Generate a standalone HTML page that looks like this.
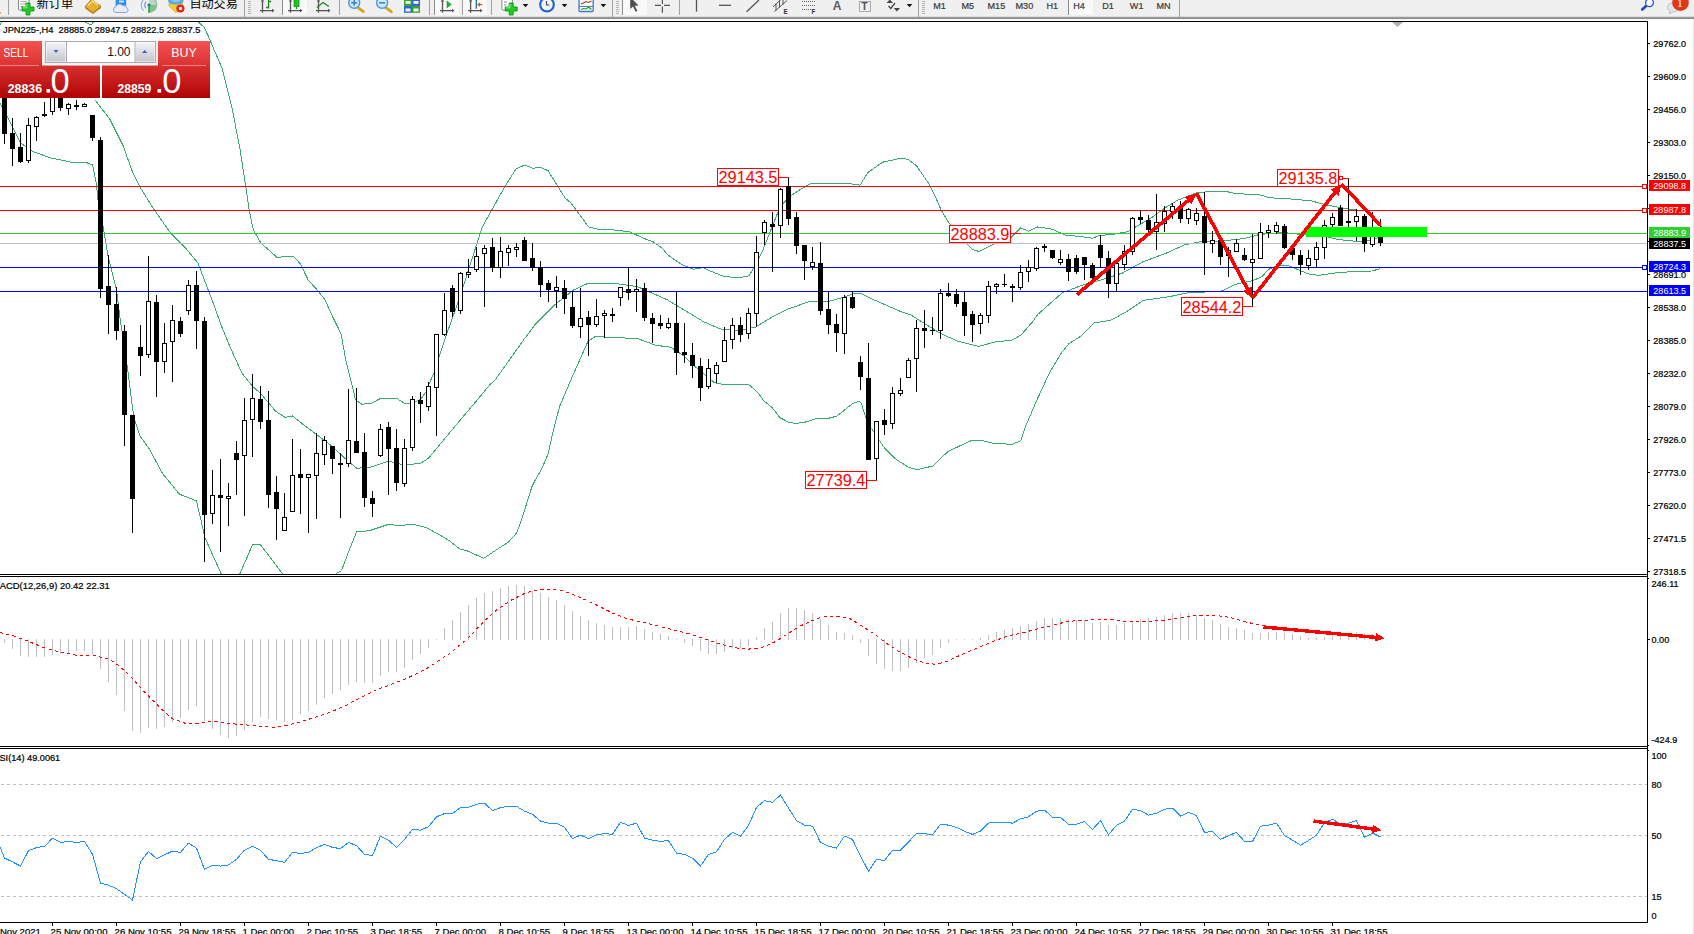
<!DOCTYPE html>
<html><head><meta charset="utf-8"><title>JPN225 H4</title>
<style>html,body{margin:0;padding:0;background:#fff;overflow:hidden}body{width:1694px;height:934px;position:relative}svg{position:absolute;left:0;top:0;display:block}text{white-space:pre}</style>
</head><body>
<svg width="1694" height="934" viewBox="0 0 1694 934" font-family='"Liberation Sans","Noto Sans CJK SC",sans-serif'>
<defs><linearGradient id="gs" x1="0" y1="0" x2="0" y2="1"><stop offset="0" stop-color="#f55252"/><stop offset="1" stop-color="#dc3232"/></linearGradient><linearGradient id="gp" x1="0" y1="0" x2="0" y2="1"><stop offset="0" stop-color="#d93030"/><stop offset="1" stop-color="#b00404"/></linearGradient><linearGradient id="gb" x1="0" y1="0" x2="0" y2="1"><stop offset="0" stop-color="#f4f4f6"/><stop offset="0.5" stop-color="#dcdce2"/><stop offset="1" stop-color="#c4c4cc"/></linearGradient><clipPath id="cm"><rect x="0" y="22" width="1647" height="552"/></clipPath><clipPath id="c2"><rect x="0" y="577" width="1647" height="169"/></clipPath><clipPath id="c3"><rect x="0" y="749" width="1647" height="173"/></clipPath></defs>
<rect x="0" y="0" width="1694" height="934" fill="#fff" />
<g clip-path="url(#cm)">
<polyline points="0,25 1.7,22" fill="none" stroke="#38ab6e" stroke-width="1" shape-rendering="crispEdges"/>
<polyline points="84.4,21.8 88,23.6 90.6,24.9 92,24 93.6,21.8" fill="none" stroke="#38ab6e" stroke-width="1" shape-rendering="crispEdges"/>
<polyline points="195,19 198,21.8 204.1,27.2 209.5,38.7 212.6,46.4 222,68 232.4,110 240,149 246,188 249.5,212 253.4,230 261,243.2 277,257.3 293,256 300.5,263.9 308.1,279.9 317.5,290.3 325,299.7 332.6,316.7 341,333.6 345.8,360 348.3,370 352.4,386.4 355.5,399.9 361.8,404.2 371.4,403.3 379.6,398.9 397.5,398.9 404.7,403.3 410,403.3 415.8,401.8 421.1,398.9 426.4,391.2 428.7,384.5 434.1,372.9 438.1,360 447.5,331.7 456.9,305.4 466.3,277 475.8,247 482.2,227.2 491.6,210.3 504.8,186.7 516.1,168.8 524.6,165.1 533,168.3 540.6,167.3 548.1,170.7 557.5,185.8 565.1,198 570.7,202.8 576.4,210.3 588.6,226.9 597.1,229.1 615.9,230.1 629.5,231.9 644.2,238.5 654,242.2 663,248.9 667.2,254.5 678.1,262.1 684.1,265.8 693.6,269.2 703,267.7 711.3,271.5 724.5,276.6 739.6,277.7 749,275.8 754.6,266.8 762.2,251.7 769.7,232.9 777.2,214 783.8,202.7 790.4,196.2 801.7,188.6 811.2,183.5 831.9,183.2 848.8,183.5 860.1,185.2 867.7,172.6 882.7,162.2 901.6,158.1 908.2,159.4 916.7,166 928.9,183.9 935.5,197.1 941.2,210.3 948.7,222.5 958,234 967.5,244.2 972.2,249.5 978.8,251.4 988.2,247 1001.4,240.4 1011.3,237.2 1020.7,227.8 1028.3,231.2 1037.7,226.9 1050.9,228.8 1065.9,235.4 1079.1,236.3 1092.3,238.2 1099.8,235.4 1113,234.4 1128.1,231.6 1135.6,226.9 1150.7,218.4 1162,209.9 1177.1,200.5 1195.9,193 1212.9,191.1 1224.2,191.1 1235.5,193.5 1260,194.9 1269.4,197.7 1293.9,199.2 1311.6,200.9 1324.8,204.6 1339.9,207.5 1353,209.9 1365,210.4 1381,210.6" fill="none" stroke="#38ab6e" stroke-width="1" shape-rendering="crispEdges"/>
<polyline points="95.2,100 110.3,120 122.8,145 132.8,172.7 140.4,187.7 152.9,207.8 170.4,232.9 185.5,247.9 198,262.9 205.5,283 212,299.7 221.4,326 230.8,348.7 242,373.2 252.5,386.4 261,393.9 266.1,400 275.6,411.3 285,417.3 292.5,416 305.7,426.4 317,434.9 332,446.2 347.1,460.3 356.6,468.2 369.7,467.4 388.6,461.2 400,464 409.4,464.6 420.7,463.1 428.3,458.4 437.7,447.1 456.5,424.5 477.2,400 490,384.5 494.6,380.7 513.4,354.3 524,339.3 530,331.7 535.3,324.2 554.1,305.4 573,290.3 588,283.3 616.3,283.7 637,286.5 652.1,293.1 667.2,299.7 684.1,310 703,321.4 720,328.9 736.9,330.8 755.7,327 772.7,316.7 787.8,309.1 810.4,301.2 829.2,301.2 842,297.8 852.6,294.1 860.1,293.2 869.6,297.9 884.6,304.5 899.7,311.1 910.4,314.7 925.5,324.1 940.6,333.5 957.5,341.1 978.3,346.4 995.2,342 1012.2,340.1 1021.6,334.5 1032.9,321.3 1037.7,314.5 1062.2,292.8 1084.8,284.3 1105.5,278.7 1122.5,273 1143.2,261.7 1165.8,253.3 1184.6,244.8 1199.7,241.9 1222.3,241 1243,238.7 1260,234.4 1282.6,232.5 1301.4,234.4 1318,234.4 1338,239.5 1356.8,241.4 1370,240.4 1380.4,237" fill="none" stroke="#38ab6e" stroke-width="1" shape-rendering="crispEdges"/>
<polyline points="0,102.9 7.1,116.2 20,142.1 22.3,144.2 32.5,151.4 50,157.7 75,163 85,162 92.7,165 96.5,185 97.7,197.8 102.8,225 107.8,255 116.5,290 120.3,320 127.8,370 132.8,410 134.3,418.8 139.9,435.8 149.3,449 162.5,473.5 179.5,494.2 196.4,500.8 200.2,516.8 204.9,537.5 220.9,573.3 222,576" fill="none" stroke="#38ab6e" stroke-width="1" shape-rendering="crispEdges"/>
<polyline points="239,576 240.1,573.3 252.9,544 260.5,545 268,554.5 282,573.3 284,576" fill="none" stroke="#38ab6e" stroke-width="1" shape-rendering="crispEdges"/>
<polyline points="335,576 336.8,573.3 341.5,570.5 349,550.7 356.6,531.9 369.7,530.6 388.6,524.3 399.9,525.8 412.2,524 426.4,527.7 437.7,533.8 449,540.4 460.3,549.4 465.9,550.3 483.8,558.3 498,548.8 508.3,542.2 516.8,532.8 522.5,516.8 531.9,486.7 534.7,481 541.3,469.7 547.9,454.6 552.6,433.9 557.3,415.1 559.8,406 573,375 588,341.2 595.6,336.4 616.3,337.8 637,338.3 655.9,345.3 671,347.2 684.1,356.2 697.3,368.5 714.3,382.6 723.7,384.5 748.7,384.5 752.5,387.8 758.3,393.1 764.1,401.3 771.8,407.1 780,417.7 788.2,422 795.9,423.5 805.5,422 818.1,418.2 828.7,418.2 836.4,416.3 844.1,410.5 852.8,403.3 859.5,401.3 861.4,403.3 865.3,416.3 871.1,427.8 878.8,439.4 884.6,448.1 895.4,458.8 908.5,467.3 917,469.6 933,466 948.1,451.3 972.6,440 980.1,440 993.3,443.4 1012.2,444.3 1020.6,440.9 1025.4,426.8 1036.7,400.4 1049.8,372.2 1061.1,353.3 1068.7,343.9 1081,336 1094.2,323 1111.2,320.1 1128.1,310.7 1143.2,300.4 1169.6,296.6 1188.4,292.8 1207.2,291.9 1222.3,290.9 1235.5,284.3 1252.5,280.6 1261.9,276.8 1268.3,269.6 1277.7,265.3 1289,265.9 1300.3,270.6 1309.7,274.3 1319.1,275.3 1338,272.5 1356.8,271.5 1371.9,271 1380.4,268.7" fill="none" stroke="#38ab6e" stroke-width="1" shape-rendering="crispEdges"/>
<rect x="0" y="186" width="1647" height="1" fill="#ff0000" />
<rect x="0" y="210" width="1647" height="1" fill="#ff0000" />
<rect x="0" y="233" width="1647" height="1" fill="#32cd32" />
<rect x="0" y="243" width="1647" height="1" fill="#c0c0c0" />
<rect x="0" y="267" width="1647" height="1" fill="#0000ff" />
<rect x="0" y="291" width="1647" height="1" fill="#0000ff" />
<g shape-rendering="crispEdges">
<rect x="4" y="85" width="1" height="59" fill="#000" />
<rect x="2" y="90" width="5" height="44" fill="#000" />
<rect x="12" y="118" width="1" height="48" fill="#000" />
<rect x="10" y="133" width="5" height="16" fill="#000" />
<rect x="20" y="133" width="1" height="30" fill="#000" />
<rect x="18" y="147" width="5" height="15" fill="#000" />
<rect x="28" y="118" width="1" height="45" fill="#000" />
<rect x="26" y="125" width="5" height="36" fill="#000" />
<rect x="27" y="126" width="3" height="34" fill="#fff" />
<rect x="36" y="116" width="1" height="25" fill="#000" />
<rect x="34" y="117" width="5" height="10" fill="#000" />
<rect x="35" y="118" width="3" height="8" fill="#fff" />
<rect x="44" y="102" width="1" height="15" fill="#000" />
<rect x="42" y="114" width="5" height="2" fill="#000" />
<rect x="52" y="90" width="1" height="25" fill="#000" />
<rect x="50" y="92" width="5" height="20" fill="#000" />
<rect x="51" y="93" width="3" height="18" fill="#fff" />
<rect x="60" y="90" width="1" height="21" fill="#000" />
<rect x="58" y="95" width="5" height="13" fill="#000" />
<rect x="68" y="103" width="1" height="12" fill="#000" />
<rect x="66" y="104" width="5" height="5" fill="#000" />
<rect x="67" y="105" width="3" height="3" fill="#fff" />
<rect x="76" y="100" width="1" height="10" fill="#000" />
<rect x="74" y="105" width="5" height="2" fill="#000" />
<rect x="84" y="103" width="1" height="4" fill="#000" />
<rect x="82" y="104" width="5" height="3" fill="#000" />
<rect x="83" y="105" width="3" height="1" fill="#fff" />
<rect x="92" y="115" width="1" height="26" fill="#000" />
<rect x="90" y="115" width="5" height="23" fill="#000" />
<rect x="100" y="137" width="1" height="161" fill="#000" />
<rect x="98" y="140" width="5" height="149" fill="#000" />
<rect x="108" y="255" width="1" height="79" fill="#000" />
<rect x="106" y="286" width="5" height="19" fill="#000" />
<rect x="116" y="287" width="1" height="53" fill="#000" />
<rect x="114" y="304" width="5" height="27" fill="#000" />
<rect x="124" y="325" width="1" height="121" fill="#000" />
<rect x="122" y="331" width="5" height="84" fill="#000" />
<rect x="132" y="415" width="1" height="118" fill="#000" />
<rect x="130" y="415" width="5" height="84" fill="#000" />
<rect x="140" y="325" width="1" height="51" fill="#000" />
<rect x="138" y="347" width="5" height="9" fill="#000" />
<rect x="148" y="256" width="1" height="102" fill="#000" />
<rect x="146" y="301" width="5" height="54" fill="#000" />
<rect x="147" y="302" width="3" height="52" fill="#fff" />
<rect x="156" y="295" width="1" height="102" fill="#000" />
<rect x="154" y="302" width="5" height="60" fill="#000" />
<rect x="164" y="323" width="1" height="50" fill="#000" />
<rect x="162" y="343" width="5" height="19" fill="#000" />
<rect x="163" y="344" width="3" height="17" fill="#fff" />
<rect x="172" y="305" width="1" height="77" fill="#000" />
<rect x="170" y="320" width="5" height="22" fill="#000" />
<rect x="171" y="321" width="3" height="20" fill="#fff" />
<rect x="180" y="317" width="1" height="20" fill="#000" />
<rect x="178" y="321" width="5" height="13" fill="#000" />
<rect x="188" y="280" width="1" height="35" fill="#000" />
<rect x="186" y="285" width="5" height="26" fill="#000" />
<rect x="187" y="286" width="3" height="24" fill="#fff" />
<rect x="196" y="271" width="1" height="78" fill="#000" />
<rect x="194" y="285" width="5" height="36" fill="#000" />
<rect x="204" y="317" width="1" height="245" fill="#000" />
<rect x="202" y="321" width="5" height="194" fill="#000" />
<rect x="212" y="470" width="1" height="54" fill="#000" />
<rect x="210" y="495" width="5" height="19" fill="#000" />
<rect x="211" y="496" width="3" height="17" fill="#fff" />
<rect x="220" y="459" width="1" height="93" fill="#000" />
<rect x="218" y="495" width="5" height="3" fill="#000" />
<rect x="228" y="483" width="1" height="43" fill="#000" />
<rect x="226" y="496" width="5" height="3" fill="#000" />
<rect x="227" y="497" width="3" height="1" fill="#fff" />
<rect x="236" y="441" width="1" height="54" fill="#000" />
<rect x="234" y="453" width="5" height="7" fill="#000" />
<rect x="244" y="398" width="1" height="118" fill="#000" />
<rect x="242" y="420" width="5" height="36" fill="#000" />
<rect x="243" y="421" width="3" height="34" fill="#fff" />
<rect x="252" y="374" width="1" height="83" fill="#000" />
<rect x="250" y="398" width="5" height="22" fill="#000" />
<rect x="251" y="399" width="3" height="20" fill="#fff" />
<rect x="260" y="386" width="1" height="43" fill="#000" />
<rect x="258" y="399" width="5" height="23" fill="#000" />
<rect x="268" y="391" width="1" height="117" fill="#000" />
<rect x="266" y="420" width="5" height="75" fill="#000" />
<rect x="276" y="476" width="1" height="64" fill="#000" />
<rect x="274" y="492" width="5" height="17" fill="#000" />
<rect x="284" y="493" width="1" height="38" fill="#000" />
<rect x="282" y="517" width="5" height="14" fill="#000" />
<rect x="283" y="518" width="3" height="12" fill="#fff" />
<rect x="292" y="439" width="1" height="73" fill="#000" />
<rect x="290" y="475" width="5" height="37" fill="#000" />
<rect x="291" y="476" width="3" height="35" fill="#fff" />
<rect x="300" y="449" width="1" height="65" fill="#000" />
<rect x="298" y="474" width="5" height="4" fill="#000" />
<rect x="308" y="474" width="1" height="59" fill="#000" />
<rect x="306" y="474" width="5" height="4" fill="#000" />
<rect x="307" y="475" width="3" height="2" fill="#fff" />
<rect x="316" y="433" width="1" height="86" fill="#000" />
<rect x="314" y="453" width="5" height="23" fill="#000" />
<rect x="315" y="454" width="3" height="21" fill="#fff" />
<rect x="324" y="436" width="1" height="29" fill="#000" />
<rect x="322" y="440" width="5" height="15" fill="#000" />
<rect x="323" y="441" width="3" height="13" fill="#fff" />
<rect x="332" y="446" width="1" height="28" fill="#000" />
<rect x="330" y="446" width="5" height="13" fill="#000" />
<rect x="340" y="453" width="1" height="65" fill="#000" />
<rect x="338" y="463" width="5" height="2" fill="#000" />
<rect x="348" y="389" width="1" height="78" fill="#000" />
<rect x="346" y="440" width="5" height="24" fill="#000" />
<rect x="347" y="441" width="3" height="22" fill="#fff" />
<rect x="356" y="388" width="1" height="65" fill="#000" />
<rect x="354" y="441" width="5" height="12" fill="#000" />
<rect x="364" y="433" width="1" height="74" fill="#000" />
<rect x="362" y="452" width="5" height="46" fill="#000" />
<rect x="372" y="491" width="1" height="26" fill="#000" />
<rect x="370" y="498" width="5" height="6" fill="#000" />
<rect x="380" y="424" width="1" height="33" fill="#000" />
<rect x="378" y="429" width="5" height="27" fill="#000" />
<rect x="379" y="430" width="3" height="25" fill="#fff" />
<rect x="388" y="422" width="1" height="73" fill="#000" />
<rect x="386" y="427" width="5" height="22" fill="#000" />
<rect x="396" y="429" width="1" height="62" fill="#000" />
<rect x="394" y="448" width="5" height="35" fill="#000" />
<rect x="404" y="439" width="1" height="48" fill="#000" />
<rect x="402" y="448" width="5" height="36" fill="#000" />
<rect x="403" y="449" width="3" height="34" fill="#fff" />
<rect x="412" y="396" width="1" height="55" fill="#000" />
<rect x="410" y="399" width="5" height="49" fill="#000" />
<rect x="411" y="400" width="3" height="47" fill="#fff" />
<rect x="420" y="392" width="1" height="31" fill="#000" />
<rect x="418" y="400" width="5" height="4" fill="#000" />
<rect x="428" y="382" width="1" height="29" fill="#000" />
<rect x="426" y="386" width="5" height="21" fill="#000" />
<rect x="427" y="387" width="3" height="19" fill="#fff" />
<rect x="436" y="334" width="1" height="102" fill="#000" />
<rect x="434" y="334" width="5" height="54" fill="#000" />
<rect x="435" y="335" width="3" height="52" fill="#fff" />
<rect x="444" y="293" width="1" height="43" fill="#000" />
<rect x="442" y="310" width="5" height="25" fill="#000" />
<rect x="443" y="311" width="3" height="23" fill="#fff" />
<rect x="452" y="285" width="1" height="32" fill="#000" />
<rect x="450" y="288" width="5" height="24" fill="#000" />
<rect x="460" y="272" width="1" height="42" fill="#000" />
<rect x="458" y="273" width="5" height="38" fill="#000" />
<rect x="459" y="274" width="3" height="36" fill="#fff" />
<rect x="468" y="259" width="1" height="19" fill="#000" />
<rect x="466" y="272" width="5" height="3" fill="#000" />
<rect x="467" y="273" width="3" height="1" fill="#fff" />
<rect x="476" y="247" width="1" height="25" fill="#000" />
<rect x="474" y="256" width="5" height="14" fill="#000" />
<rect x="475" y="257" width="3" height="12" fill="#fff" />
<rect x="484" y="245" width="1" height="62" fill="#000" />
<rect x="482" y="248" width="5" height="6" fill="#000" />
<rect x="483" y="249" width="3" height="4" fill="#fff" />
<rect x="492" y="238" width="1" height="34" fill="#000" />
<rect x="490" y="247" width="5" height="21" fill="#000" />
<rect x="500" y="237" width="1" height="41" fill="#000" />
<rect x="498" y="251" width="5" height="17" fill="#000" />
<rect x="499" y="252" width="3" height="15" fill="#fff" />
<rect x="508" y="245" width="1" height="21" fill="#000" />
<rect x="506" y="248" width="5" height="5" fill="#000" />
<rect x="507" y="249" width="3" height="3" fill="#fff" />
<rect x="516" y="243" width="1" height="14" fill="#000" />
<rect x="514" y="247" width="5" height="3" fill="#000" />
<rect x="515" y="248" width="3" height="1" fill="#fff" />
<rect x="524" y="237" width="1" height="24" fill="#000" />
<rect x="522" y="240" width="5" height="21" fill="#000" />
<rect x="532" y="243" width="1" height="28" fill="#000" />
<rect x="530" y="258" width="5" height="10" fill="#000" />
<rect x="540" y="261" width="1" height="36" fill="#000" />
<rect x="538" y="267" width="5" height="18" fill="#000" />
<rect x="548" y="280" width="1" height="22" fill="#000" />
<rect x="546" y="283" width="5" height="7" fill="#000" />
<rect x="556" y="276" width="1" height="32" fill="#000" />
<rect x="554" y="287" width="5" height="4" fill="#000" />
<rect x="555" y="288" width="3" height="2" fill="#fff" />
<rect x="564" y="280" width="1" height="34" fill="#000" />
<rect x="562" y="288" width="5" height="11" fill="#000" />
<rect x="572" y="291" width="1" height="37" fill="#000" />
<rect x="570" y="307" width="5" height="19" fill="#000" />
<rect x="580" y="288" width="1" height="50" fill="#000" />
<rect x="578" y="318" width="5" height="9" fill="#000" />
<rect x="579" y="319" width="3" height="7" fill="#fff" />
<rect x="588" y="311" width="1" height="45" fill="#000" />
<rect x="586" y="317" width="5" height="8" fill="#000" />
<rect x="596" y="299" width="1" height="28" fill="#000" />
<rect x="594" y="316" width="5" height="9" fill="#000" />
<rect x="595" y="317" width="3" height="7" fill="#fff" />
<rect x="604" y="310" width="1" height="28" fill="#000" />
<rect x="602" y="313" width="5" height="3" fill="#000" />
<rect x="603" y="314" width="3" height="1" fill="#fff" />
<rect x="612" y="308" width="1" height="14" fill="#000" />
<rect x="610" y="314" width="5" height="2" fill="#000" />
<rect x="620" y="287" width="1" height="19" fill="#000" />
<rect x="618" y="287" width="5" height="11" fill="#000" />
<rect x="619" y="288" width="3" height="9" fill="#fff" />
<rect x="628" y="267" width="1" height="33" fill="#000" />
<rect x="626" y="289" width="5" height="4" fill="#000" />
<rect x="636" y="279" width="1" height="33" fill="#000" />
<rect x="634" y="289" width="5" height="3" fill="#000" />
<rect x="635" y="290" width="3" height="1" fill="#fff" />
<rect x="644" y="283" width="1" height="38" fill="#000" />
<rect x="642" y="288" width="5" height="30" fill="#000" />
<rect x="652" y="313" width="1" height="30" fill="#000" />
<rect x="650" y="318" width="5" height="6" fill="#000" />
<rect x="660" y="315" width="1" height="14" fill="#000" />
<rect x="658" y="323" width="5" height="3" fill="#000" />
<rect x="668" y="318" width="1" height="11" fill="#000" />
<rect x="666" y="323" width="5" height="5" fill="#000" />
<rect x="667" y="324" width="3" height="3" fill="#fff" />
<rect x="676" y="292" width="1" height="83" fill="#000" />
<rect x="674" y="323" width="5" height="30" fill="#000" />
<rect x="684" y="323" width="1" height="40" fill="#000" />
<rect x="682" y="352" width="5" height="3" fill="#000" />
<rect x="692" y="343" width="1" height="35" fill="#000" />
<rect x="690" y="355" width="5" height="11" fill="#000" />
<rect x="700" y="358" width="1" height="43" fill="#000" />
<rect x="698" y="366" width="5" height="22" fill="#000" />
<rect x="708" y="359" width="1" height="30" fill="#000" />
<rect x="706" y="368" width="5" height="19" fill="#000" />
<rect x="707" y="369" width="3" height="17" fill="#fff" />
<rect x="716" y="362" width="1" height="21" fill="#000" />
<rect x="714" y="365" width="5" height="9" fill="#000" />
<rect x="715" y="366" width="3" height="7" fill="#fff" />
<rect x="724" y="327" width="1" height="35" fill="#000" />
<rect x="722" y="340" width="5" height="22" fill="#000" />
<rect x="723" y="341" width="3" height="20" fill="#fff" />
<rect x="732" y="318" width="1" height="31" fill="#000" />
<rect x="730" y="325" width="5" height="15" fill="#000" />
<rect x="731" y="326" width="3" height="13" fill="#fff" />
<rect x="740" y="317" width="1" height="25" fill="#000" />
<rect x="738" y="325" width="5" height="10" fill="#000" />
<rect x="748" y="308" width="1" height="31" fill="#000" />
<rect x="746" y="313" width="5" height="21" fill="#000" />
<rect x="747" y="314" width="3" height="19" fill="#fff" />
<rect x="756" y="236" width="1" height="91" fill="#000" />
<rect x="754" y="252" width="5" height="62" fill="#000" />
<rect x="755" y="253" width="3" height="60" fill="#fff" />
<rect x="764" y="220" width="1" height="25" fill="#000" />
<rect x="762" y="222" width="5" height="11" fill="#000" />
<rect x="763" y="223" width="3" height="9" fill="#fff" />
<rect x="772" y="212" width="1" height="60" fill="#000" />
<rect x="770" y="224" width="5" height="3" fill="#000" />
<rect x="780" y="188" width="1" height="50" fill="#000" />
<rect x="778" y="189" width="5" height="37" fill="#000" />
<rect x="779" y="190" width="3" height="35" fill="#fff" />
<rect x="788" y="177" width="1" height="48" fill="#000" />
<rect x="786" y="186" width="5" height="33" fill="#000" />
<rect x="796" y="212" width="1" height="42" fill="#000" />
<rect x="794" y="217" width="5" height="29" fill="#000" />
<rect x="804" y="245" width="1" height="35" fill="#000" />
<rect x="802" y="245" width="5" height="16" fill="#000" />
<rect x="812" y="247" width="1" height="23" fill="#000" />
<rect x="810" y="262" width="5" height="5" fill="#000" />
<rect x="811" y="263" width="3" height="3" fill="#fff" />
<rect x="820" y="242" width="1" height="73" fill="#000" />
<rect x="818" y="263" width="5" height="48" fill="#000" />
<rect x="828" y="292" width="1" height="42" fill="#000" />
<rect x="826" y="309" width="5" height="16" fill="#000" />
<rect x="836" y="314" width="1" height="38" fill="#000" />
<rect x="834" y="324" width="5" height="9" fill="#000" />
<rect x="844" y="295" width="1" height="59" fill="#000" />
<rect x="842" y="297" width="5" height="37" fill="#000" />
<rect x="843" y="298" width="3" height="35" fill="#fff" />
<rect x="852" y="291" width="1" height="18" fill="#000" />
<rect x="850" y="297" width="5" height="11" fill="#000" />
<rect x="860" y="356" width="1" height="34" fill="#000" />
<rect x="858" y="362" width="5" height="15" fill="#000" />
<rect x="868" y="343" width="1" height="117" fill="#000" />
<rect x="866" y="378" width="5" height="82" fill="#000" />
<rect x="876" y="421" width="1" height="60" fill="#000" />
<rect x="874" y="421" width="5" height="38" fill="#000" />
<rect x="875" y="422" width="3" height="36" fill="#fff" />
<rect x="884" y="409" width="1" height="26" fill="#000" />
<rect x="882" y="420" width="5" height="5" fill="#000" />
<rect x="892" y="387" width="1" height="42" fill="#000" />
<rect x="890" y="393" width="5" height="31" fill="#000" />
<rect x="891" y="394" width="3" height="29" fill="#fff" />
<rect x="900" y="378" width="1" height="18" fill="#000" />
<rect x="898" y="390" width="5" height="4" fill="#000" />
<rect x="899" y="391" width="3" height="2" fill="#fff" />
<rect x="908" y="358" width="1" height="20" fill="#000" />
<rect x="906" y="360" width="5" height="18" fill="#000" />
<rect x="907" y="361" width="3" height="16" fill="#fff" />
<rect x="916" y="320" width="1" height="72" fill="#000" />
<rect x="914" y="328" width="5" height="31" fill="#000" />
<rect x="915" y="329" width="3" height="29" fill="#fff" />
<rect x="924" y="310" width="1" height="38" fill="#000" />
<rect x="922" y="328" width="5" height="3" fill="#000" />
<rect x="932" y="317" width="1" height="18" fill="#000" />
<rect x="930" y="330" width="5" height="1" fill="#000" />
<rect x="940" y="289" width="1" height="50" fill="#000" />
<rect x="938" y="293" width="5" height="38" fill="#000" />
<rect x="939" y="294" width="3" height="36" fill="#fff" />
<rect x="948" y="283" width="1" height="14" fill="#000" />
<rect x="946" y="293" width="5" height="3" fill="#000" />
<rect x="956" y="289" width="1" height="18" fill="#000" />
<rect x="954" y="294" width="5" height="10" fill="#000" />
<rect x="964" y="291" width="1" height="45" fill="#000" />
<rect x="962" y="302" width="5" height="14" fill="#000" />
<rect x="972" y="311" width="1" height="31" fill="#000" />
<rect x="970" y="314" width="5" height="11" fill="#000" />
<rect x="980" y="313" width="1" height="21" fill="#000" />
<rect x="978" y="315" width="5" height="9" fill="#000" />
<rect x="979" y="316" width="3" height="7" fill="#fff" />
<rect x="988" y="281" width="1" height="42" fill="#000" />
<rect x="986" y="286" width="5" height="30" fill="#000" />
<rect x="987" y="287" width="3" height="28" fill="#fff" />
<rect x="996" y="283" width="1" height="11" fill="#000" />
<rect x="994" y="284" width="5" height="3" fill="#000" />
<rect x="995" y="285" width="3" height="1" fill="#fff" />
<rect x="1004" y="274" width="1" height="13" fill="#000" />
<rect x="1002" y="284" width="5" height="1" fill="#000" />
<rect x="1012" y="284" width="1" height="18" fill="#000" />
<rect x="1010" y="286" width="5" height="2" fill="#000" />
<rect x="1020" y="265" width="1" height="25" fill="#000" />
<rect x="1018" y="272" width="5" height="16" fill="#000" />
<rect x="1019" y="273" width="3" height="14" fill="#fff" />
<rect x="1028" y="260" width="1" height="22" fill="#000" />
<rect x="1026" y="267" width="5" height="5" fill="#000" />
<rect x="1027" y="268" width="3" height="3" fill="#fff" />
<rect x="1036" y="247" width="1" height="24" fill="#000" />
<rect x="1034" y="248" width="5" height="21" fill="#000" />
<rect x="1035" y="249" width="3" height="19" fill="#fff" />
<rect x="1044" y="244" width="1" height="8" fill="#000" />
<rect x="1042" y="246" width="5" height="2" fill="#000" />
<rect x="1052" y="250" width="1" height="9" fill="#000" />
<rect x="1050" y="250" width="5" height="8" fill="#000" />
<rect x="1060" y="250" width="1" height="15" fill="#000" />
<rect x="1058" y="259" width="5" height="4" fill="#000" />
<rect x="1059" y="260" width="3" height="2" fill="#fff" />
<rect x="1068" y="254" width="1" height="27" fill="#000" />
<rect x="1066" y="259" width="5" height="13" fill="#000" />
<rect x="1076" y="255" width="1" height="19" fill="#000" />
<rect x="1074" y="258" width="5" height="14" fill="#000" />
<rect x="1084" y="257" width="1" height="23" fill="#000" />
<rect x="1082" y="257" width="5" height="8" fill="#000" />
<rect x="1092" y="263" width="1" height="16" fill="#000" />
<rect x="1090" y="265" width="5" height="13" fill="#000" />
<rect x="1100" y="235" width="1" height="33" fill="#000" />
<rect x="1098" y="245" width="5" height="13" fill="#000" />
<rect x="1108" y="251" width="1" height="47" fill="#000" />
<rect x="1106" y="258" width="5" height="26" fill="#000" />
<rect x="1116" y="263" width="1" height="29" fill="#000" />
<rect x="1114" y="263" width="5" height="21" fill="#000" />
<rect x="1115" y="264" width="3" height="19" fill="#fff" />
<rect x="1124" y="245" width="1" height="25" fill="#000" />
<rect x="1122" y="251" width="5" height="14" fill="#000" />
<rect x="1123" y="252" width="3" height="12" fill="#fff" />
<rect x="1132" y="217" width="1" height="38" fill="#000" />
<rect x="1130" y="218" width="5" height="34" fill="#000" />
<rect x="1131" y="219" width="3" height="32" fill="#fff" />
<rect x="1140" y="210" width="1" height="14" fill="#000" />
<rect x="1138" y="217" width="5" height="3" fill="#000" />
<rect x="1148" y="215" width="1" height="18" fill="#000" />
<rect x="1146" y="220" width="5" height="10" fill="#000" />
<rect x="1156" y="194" width="1" height="56" fill="#000" />
<rect x="1154" y="222" width="5" height="10" fill="#000" />
<rect x="1155" y="223" width="3" height="8" fill="#fff" />
<rect x="1164" y="206" width="1" height="26" fill="#000" />
<rect x="1162" y="211" width="5" height="13" fill="#000" />
<rect x="1163" y="212" width="3" height="11" fill="#fff" />
<rect x="1172" y="203" width="1" height="16" fill="#000" />
<rect x="1170" y="206" width="5" height="6" fill="#000" />
<rect x="1171" y="207" width="3" height="4" fill="#fff" />
<rect x="1180" y="201" width="1" height="22" fill="#000" />
<rect x="1178" y="206" width="5" height="13" fill="#000" />
<rect x="1188" y="208" width="1" height="16" fill="#000" />
<rect x="1186" y="209" width="5" height="10" fill="#000" />
<rect x="1187" y="210" width="3" height="8" fill="#fff" />
<rect x="1196" y="208" width="1" height="17" fill="#000" />
<rect x="1194" y="213" width="5" height="8" fill="#000" />
<rect x="1195" y="214" width="3" height="6" fill="#fff" />
<rect x="1204" y="192" width="1" height="83" fill="#000" />
<rect x="1202" y="216" width="5" height="27" fill="#000" />
<rect x="1212" y="231" width="1" height="22" fill="#000" />
<rect x="1210" y="240" width="5" height="4" fill="#000" />
<rect x="1211" y="241" width="3" height="2" fill="#fff" />
<rect x="1220" y="240" width="1" height="25" fill="#000" />
<rect x="1218" y="240" width="5" height="17" fill="#000" />
<rect x="1228" y="247" width="1" height="30" fill="#000" />
<rect x="1226" y="250" width="5" height="6" fill="#000" />
<rect x="1227" y="251" width="3" height="4" fill="#fff" />
<rect x="1236" y="239" width="1" height="13" fill="#000" />
<rect x="1234" y="243" width="5" height="9" fill="#000" />
<rect x="1235" y="244" width="3" height="7" fill="#fff" />
<rect x="1244" y="248" width="1" height="13" fill="#000" />
<rect x="1242" y="255" width="5" height="5" fill="#000" />
<rect x="1252" y="234" width="1" height="73" fill="#000" />
<rect x="1250" y="259" width="5" height="4" fill="#000" />
<rect x="1251" y="260" width="3" height="2" fill="#fff" />
<rect x="1260" y="223" width="1" height="36" fill="#000" />
<rect x="1258" y="232" width="5" height="27" fill="#000" />
<rect x="1259" y="233" width="3" height="25" fill="#fff" />
<rect x="1268" y="225" width="1" height="13" fill="#000" />
<rect x="1266" y="230" width="5" height="3" fill="#000" />
<rect x="1267" y="231" width="3" height="1" fill="#fff" />
<rect x="1276" y="222" width="1" height="12" fill="#000" />
<rect x="1274" y="225" width="5" height="7" fill="#000" />
<rect x="1275" y="226" width="3" height="5" fill="#fff" />
<rect x="1284" y="224" width="1" height="25" fill="#000" />
<rect x="1282" y="226" width="5" height="22" fill="#000" />
<rect x="1292" y="248" width="1" height="12" fill="#000" />
<rect x="1290" y="248" width="5" height="7" fill="#000" />
<rect x="1300" y="250" width="1" height="25" fill="#000" />
<rect x="1298" y="255" width="5" height="10" fill="#000" />
<rect x="1308" y="250" width="1" height="20" fill="#000" />
<rect x="1306" y="258" width="5" height="8" fill="#000" />
<rect x="1307" y="259" width="3" height="6" fill="#fff" />
<rect x="1316" y="242" width="1" height="25" fill="#000" />
<rect x="1314" y="247" width="5" height="13" fill="#000" />
<rect x="1315" y="248" width="3" height="11" fill="#fff" />
<rect x="1324" y="220" width="1" height="39" fill="#000" />
<rect x="1322" y="225" width="5" height="23" fill="#000" />
<rect x="1323" y="226" width="3" height="21" fill="#fff" />
<rect x="1332" y="213" width="1" height="14" fill="#000" />
<rect x="1330" y="217" width="5" height="8" fill="#000" />
<rect x="1331" y="218" width="3" height="6" fill="#fff" />
<rect x="1340" y="205" width="1" height="21" fill="#000" />
<rect x="1338" y="208" width="5" height="18" fill="#000" />
<rect x="1348" y="178" width="1" height="54" fill="#000" />
<rect x="1346" y="221" width="5" height="2" fill="#000" />
<rect x="1356" y="209" width="1" height="32" fill="#000" />
<rect x="1354" y="216" width="5" height="6" fill="#000" />
<rect x="1355" y="217" width="3" height="4" fill="#fff" />
<rect x="1364" y="214" width="1" height="38" fill="#000" />
<rect x="1362" y="216" width="5" height="28" fill="#000" />
<rect x="1372" y="212" width="1" height="35" fill="#000" />
<rect x="1370" y="228" width="5" height="17" fill="#000" />
<rect x="1371" y="229" width="3" height="15" fill="#fff" />
<rect x="1380" y="219" width="1" height="27" fill="#000" />
<rect x="1378" y="232" width="5" height="11" fill="#000" />
</g>
<rect x="1306" y="227" width="121" height="10" fill="#00ff00" />
<line x1="1077" y1="294.5" x2="1189.63" y2="199.31" stroke="#ff0000" stroke-width="3.6" shape-rendering="crispEdges"/>
<polygon points="1196.5,193.5 1191.33,204.419 1184.87,196.782" fill="#ff0000" shape-rendering="crispEdges"/>
<line x1="1196.5" y1="193.5" x2="1248.26" y2="290.559" stroke="#ff0000" stroke-width="3.6" shape-rendering="crispEdges"/>
<polygon points="1252.5,298.5 1242.91,291.147 1251.74,286.441" fill="#ff0000" shape-rendering="crispEdges"/>
<line x1="1252.5" y1="298" x2="1335.96" y2="191.094" stroke="#ff0000" stroke-width="3.6" shape-rendering="crispEdges"/>
<polygon points="1341.5,184 1338.67,195.747 1330.79,189.594" fill="#ff0000" shape-rendering="crispEdges"/>
<line x1="1341.5" y1="184" x2="1379.64" y2="224.516" stroke="#ff0000" stroke-width="3.6" shape-rendering="crispEdges"/>
<polygon points="1381.7,226.7 1376.38,224.842 1380.17,221.277" fill="#ff0000" shape-rendering="crispEdges"/>
<polyline points="779,177.5 788.5,177.5" fill="none" stroke="#ff0000" stroke-width="1" shape-rendering="crispEdges"/>
<rect x="717.5" y="168.5" width="61" height="17" fill="#fff" stroke="#ff0000" stroke-width="1" shape-rendering="crispEdges"/>
<text x="748" y="183" font-size="16.3" fill="#ff0000" text-anchor="middle" >29143.5</text>
<polyline points="1011,233.5 1021,233.5" fill="none" stroke="#ff0000" stroke-width="1" shape-rendering="crispEdges"/>
<rect x="949.5" y="225.5" width="61" height="17" fill="#fff" stroke="#ff0000" stroke-width="1" shape-rendering="crispEdges"/>
<text x="980" y="240" font-size="16.3" fill="#ff0000" text-anchor="middle" >28883.9</text>
<polyline points="1243,306.5 1252.5,306.5" fill="none" stroke="#ff0000" stroke-width="1" shape-rendering="crispEdges"/>
<rect x="1181.5" y="297.5" width="61" height="18" fill="#fff" stroke="#ff0000" stroke-width="1" shape-rendering="crispEdges"/>
<text x="1212" y="312.5" font-size="16.3" fill="#ff0000" text-anchor="middle" >28544.2</text>
<polyline points="1342,178.5 1348.5,178.5" fill="none" stroke="#ff0000" stroke-width="1" shape-rendering="crispEdges"/>
<rect x="1277.5" y="169.5" width="61" height="17" fill="#fff" stroke="#ff0000" stroke-width="1" shape-rendering="crispEdges"/>
<text x="1308" y="184" font-size="16.3" fill="#ff0000" text-anchor="middle" >29135.8</text>
<rect x="1339.5" y="176.5" width="3" height="3" fill="#fff" stroke="#ff0000" stroke-width="1" shape-rendering="crispEdges"/>
<polyline points="867,480.5 876.5,480.5" fill="none" stroke="#ff0000" stroke-width="1" shape-rendering="crispEdges"/>
<rect x="805.5" y="471.5" width="61" height="17" fill="#fff" stroke="#ff0000" stroke-width="1" shape-rendering="crispEdges"/>
<text x="836" y="486" font-size="16.3" fill="#ff0000" text-anchor="middle" >27739.4</text>
</g>
<text x="3" y="32.8" font-size="9.28" fill="#000" text-anchor="start"  stroke="#000" stroke-width="0.22">JPN225-,H4&#160;&#160;28885.0 28947.5 28822.5 28837.5</text>
<polygon points="1392,22 1403,22 1397.5,27" fill="#b0b0b0"/>
<rect x="0" y="41" width="42" height="24" fill="url(#gs)" />
<rect x="158" y="41" width="52" height="24" fill="url(#gs)" />
<rect x="42" y="41" width="116" height="24" fill="#f0f0f0" />
<rect x="0" y="65" width="100" height="33" fill="url(#gp)" />
<rect x="102" y="65" width="108" height="33" fill="url(#gp)" />
<rect x="100" y="65" width="2" height="33" fill="#fff" />
<rect x="42" y="64" width="116" height="1.5" fill="#fff" />
<rect x="0" y="65" width="39" height="1" fill="#f08080" />
<rect x="162" y="65" width="44" height="1" fill="#f08080" />
<rect x="45.5" y="41.5" width="110" height="21" fill="#fff" stroke="#a9a9b4" stroke-width="1"/>
<rect x="46.5" y="42.5" width="19" height="19" fill="url(#gb)" />
<rect x="135.5" y="42.5" width="19" height="19" fill="url(#gb)" />
<rect x="66" y="42" width="1" height="20" fill="#a9a9b4" />
<rect x="134.5" y="42" width="1" height="20" fill="#a9a9b4" />
<polygon points="53.5,50 58.5,50 56,53" fill="#4a5cc0"/>
<polygon points="142,53 147.5,53 144.7,50" fill="#4a5cc0"/>
<text x="130.5" y="56" font-size="12" fill="#111" text-anchor="end" >1.00</text>
<text x="3.6" y="57" font-size="12.6" fill="#fff" text-anchor="start" textLength="24.7" lengthAdjust="spacingAndGlyphs">SELL</text>
<text x="171.2" y="56.8" font-size="12.4" fill="#fff" text-anchor="start" >BUY</text>
<text x="7.7" y="92.6" font-size="11.9" fill="#fff" text-anchor="start" font-weight="bold" textLength="34.4" lengthAdjust="spacingAndGlyphs">28836</text>
<text x="117.4" y="92.6" font-size="11.9" fill="#fff" text-anchor="start" font-weight="bold" textLength="33.9" lengthAdjust="spacingAndGlyphs">28859</text>
<rect x="46.5" y="89" width="3.6" height="3.6" fill="#fff" />
<rect x="157.5" y="89" width="3.6" height="3.6" fill="#fff" />
<text x="50.6" y="92.8" font-size="34.5" fill="#fff" text-anchor="start" >0</text>
<text x="162.3" y="92.8" font-size="34.5" fill="#fff" text-anchor="start" >0</text>
<rect x="0" y="21" width="1648" height="1" fill="#000" />
<rect x="1647" y="21" width="1" height="902" fill="#000" />
<rect x="0" y="574" width="1648" height="1" fill="#000" />
<rect x="0" y="576" width="1648" height="1" fill="#000" />
<rect x="0" y="746" width="1648" height="1" fill="#000" />
<rect x="0" y="748" width="1648" height="1" fill="#000" />
<rect x="0" y="922" width="1648" height="1" fill="#000" />
<rect x="1648" y="43" width="2" height="1" fill="#000" />
<text x="1653.3" y="46.8" font-size="9.1" fill="#000" text-anchor="start"  stroke="#000" stroke-width="0.22">29762.0</text>
<rect x="1648" y="76" width="2" height="1" fill="#000" />
<text x="1653.3" y="79.8" font-size="9.1" fill="#000" text-anchor="start"  stroke="#000" stroke-width="0.22">29609.0</text>
<rect x="1648" y="109" width="2" height="1" fill="#000" />
<text x="1653.3" y="112.8" font-size="9.1" fill="#000" text-anchor="start"  stroke="#000" stroke-width="0.22">29456.0</text>
<rect x="1648" y="142" width="2" height="1" fill="#000" />
<text x="1653.3" y="145.8" font-size="9.1" fill="#000" text-anchor="start"  stroke="#000" stroke-width="0.22">29303.0</text>
<rect x="1648" y="175" width="2" height="1" fill="#000" />
<text x="1653.3" y="178.8" font-size="9.1" fill="#000" text-anchor="start"  stroke="#000" stroke-width="0.22">29150.0</text>
<rect x="1648" y="208" width="2" height="1" fill="#000" />
<text x="1653.3" y="211.8" font-size="9.1" fill="#000" text-anchor="start"  stroke="#000" stroke-width="0.22">28997.0</text>
<rect x="1648" y="241" width="2" height="1" fill="#000" />
<text x="1653.3" y="244.8" font-size="9.1" fill="#000" text-anchor="start"  stroke="#000" stroke-width="0.22">28844.0</text>
<rect x="1648" y="274" width="2" height="1" fill="#000" />
<text x="1653.3" y="277.8" font-size="9.1" fill="#000" text-anchor="start"  stroke="#000" stroke-width="0.22">28691.0</text>
<rect x="1648" y="307" width="2" height="1" fill="#000" />
<text x="1653.3" y="310.8" font-size="9.1" fill="#000" text-anchor="start"  stroke="#000" stroke-width="0.22">28538.0</text>
<rect x="1648" y="340" width="2" height="1" fill="#000" />
<text x="1653.3" y="343.8" font-size="9.1" fill="#000" text-anchor="start"  stroke="#000" stroke-width="0.22">28385.0</text>
<rect x="1648" y="373" width="2" height="1" fill="#000" />
<text x="1653.3" y="376.8" font-size="9.1" fill="#000" text-anchor="start"  stroke="#000" stroke-width="0.22">28232.0</text>
<rect x="1648" y="406" width="2" height="1" fill="#000" />
<text x="1653.3" y="409.8" font-size="9.1" fill="#000" text-anchor="start"  stroke="#000" stroke-width="0.22">28079.0</text>
<rect x="1648" y="439" width="2" height="1" fill="#000" />
<text x="1653.3" y="442.8" font-size="9.1" fill="#000" text-anchor="start"  stroke="#000" stroke-width="0.22">27926.0</text>
<rect x="1648" y="472" width="2" height="1" fill="#000" />
<text x="1653.3" y="475.8" font-size="9.1" fill="#000" text-anchor="start"  stroke="#000" stroke-width="0.22">27773.0</text>
<rect x="1648" y="505" width="2" height="1" fill="#000" />
<text x="1653.3" y="508.8" font-size="9.1" fill="#000" text-anchor="start"  stroke="#000" stroke-width="0.22">27620.0</text>
<rect x="1648" y="538" width="2" height="1" fill="#000" />
<text x="1653.3" y="541.8" font-size="9.1" fill="#000" text-anchor="start"  stroke="#000" stroke-width="0.22">27471.5</text>
<rect x="1648" y="571" width="2" height="1" fill="#000" />
<text x="1653.3" y="574.8" font-size="9.1" fill="#000" text-anchor="start"  stroke="#000" stroke-width="0.22">27318.5</text>
<rect x="1649" y="180" width="41" height="11" fill="#ff0000" />
<text x="1653.3" y="189" font-size="9.1" fill="#fff" text-anchor="start" >29098.8</text>
<rect x="1642.5" y="184.5" width="4" height="4" fill="#fff" stroke="#ff0000" stroke-width="1" shape-rendering="crispEdges"/>
<rect x="1649" y="204" width="41" height="11" fill="#ff0000" />
<text x="1653.3" y="213" font-size="9.1" fill="#fff" text-anchor="start" >28987.8</text>
<rect x="1642.5" y="208.5" width="4" height="4" fill="#fff" stroke="#ff0000" stroke-width="1" shape-rendering="crispEdges"/>
<rect x="1649" y="261" width="41" height="11" fill="#0000ff" />
<text x="1653.3" y="270" font-size="9.1" fill="#fff" text-anchor="start" >28724.3</text>
<rect x="1642.5" y="265.5" width="4" height="4" fill="#fff" stroke="#0000ff" stroke-width="1" shape-rendering="crispEdges"/>
<rect x="1649" y="285" width="41" height="11" fill="#0000ff" />
<text x="1653.3" y="294" font-size="9.1" fill="#fff" text-anchor="start" >28613.5</text>
<rect x="1649" y="227" width="41" height="11" fill="#32cd32" />
<text x="1653.3" y="236" font-size="9.1" fill="#fff" text-anchor="start" >28883.9</text>
<rect x="1649" y="238" width="41" height="11" fill="#000000" />
<text x="1653.3" y="247" font-size="9.1" fill="#fff" text-anchor="start" >28837.5</text>
<g clip-path="url(#c2)">
<g shape-rendering="crispEdges">
<rect x="4" y="639" width="1" height="4" fill="#c0c0c0" />
<rect x="12" y="639" width="1" height="10" fill="#c0c0c0" />
<rect x="20" y="639" width="1" height="17" fill="#c0c0c0" />
<rect x="28" y="639" width="1" height="18" fill="#c0c0c0" />
<rect x="36" y="639" width="1" height="18" fill="#c0c0c0" />
<rect x="44" y="639" width="1" height="18" fill="#c0c0c0" />
<rect x="52" y="639" width="1" height="16" fill="#c0c0c0" />
<rect x="60" y="639" width="1" height="15" fill="#c0c0c0" />
<rect x="68" y="639" width="1" height="14" fill="#c0c0c0" />
<rect x="76" y="639" width="1" height="12" fill="#c0c0c0" />
<rect x="84" y="639" width="1" height="12" fill="#c0c0c0" />
<rect x="92" y="639" width="1" height="16" fill="#c0c0c0" />
<rect x="100" y="639" width="1" height="30" fill="#c0c0c0" />
<rect x="108" y="639" width="1" height="43" fill="#c0c0c0" />
<rect x="116" y="639" width="1" height="56" fill="#c0c0c0" />
<rect x="124" y="639" width="1" height="72" fill="#c0c0c0" />
<rect x="132" y="639" width="1" height="92" fill="#c0c0c0" />
<rect x="140" y="639" width="1" height="94" fill="#c0c0c0" />
<rect x="148" y="639" width="1" height="89" fill="#c0c0c0" />
<rect x="156" y="639" width="1" height="90" fill="#c0c0c0" />
<rect x="164" y="639" width="1" height="88" fill="#c0c0c0" />
<rect x="172" y="639" width="1" height="83" fill="#c0c0c0" />
<rect x="180" y="639" width="1" height="79" fill="#c0c0c0" />
<rect x="188" y="639" width="1" height="71" fill="#c0c0c0" />
<rect x="196" y="639" width="1" height="67" fill="#c0c0c0" />
<rect x="204" y="639" width="1" height="82" fill="#c0c0c0" />
<rect x="212" y="639" width="1" height="90" fill="#c0c0c0" />
<rect x="220" y="639" width="1" height="96" fill="#c0c0c0" />
<rect x="228" y="639" width="1" height="99" fill="#c0c0c0" />
<rect x="236" y="639" width="1" height="97" fill="#c0c0c0" />
<rect x="244" y="639" width="1" height="91" fill="#c0c0c0" />
<rect x="252" y="639" width="1" height="83" fill="#c0c0c0" />
<rect x="260" y="639" width="1" height="78" fill="#c0c0c0" />
<rect x="268" y="639" width="1" height="80" fill="#c0c0c0" />
<rect x="276" y="639" width="1" height="81" fill="#c0c0c0" />
<rect x="284" y="639" width="1" height="83" fill="#c0c0c0" />
<rect x="292" y="639" width="1" height="81" fill="#c0c0c0" />
<rect x="300" y="639" width="1" height="75" fill="#c0c0c0" />
<rect x="308" y="639" width="1" height="72" fill="#c0c0c0" />
<rect x="316" y="639" width="1" height="66" fill="#c0c0c0" />
<rect x="324" y="639" width="1" height="59" fill="#c0c0c0" />
<rect x="332" y="639" width="1" height="55" fill="#c0c0c0" />
<rect x="340" y="639" width="1" height="51" fill="#c0c0c0" />
<rect x="348" y="639" width="1" height="46" fill="#c0c0c0" />
<rect x="356" y="639" width="1" height="43" fill="#c0c0c0" />
<rect x="364" y="639" width="1" height="44" fill="#c0c0c0" />
<rect x="372" y="639" width="1" height="44" fill="#c0c0c0" />
<rect x="380" y="639" width="1" height="37" fill="#c0c0c0" />
<rect x="388" y="639" width="1" height="33" fill="#c0c0c0" />
<rect x="396" y="639" width="1" height="33" fill="#c0c0c0" />
<rect x="404" y="639" width="1" height="29" fill="#c0c0c0" />
<rect x="412" y="639" width="1" height="21" fill="#c0c0c0" />
<rect x="420" y="639" width="1" height="15" fill="#c0c0c0" />
<rect x="428" y="639" width="1" height="9" fill="#c0c0c0" />
<rect x="436" y="639" width="1" height="1" fill="#c0c0c0" />
<rect x="444" y="628" width="1" height="12" fill="#c0c0c0" />
<rect x="452" y="620" width="1" height="20" fill="#c0c0c0" />
<rect x="460" y="612" width="1" height="28" fill="#c0c0c0" />
<rect x="468" y="605" width="1" height="35" fill="#c0c0c0" />
<rect x="476" y="598" width="1" height="42" fill="#c0c0c0" />
<rect x="484" y="593" width="1" height="47" fill="#c0c0c0" />
<rect x="492" y="591" width="1" height="49" fill="#c0c0c0" />
<rect x="500" y="588" width="1" height="52" fill="#c0c0c0" />
<rect x="508" y="586" width="1" height="54" fill="#c0c0c0" />
<rect x="516" y="585" width="1" height="55" fill="#c0c0c0" />
<rect x="524" y="586" width="1" height="54" fill="#c0c0c0" />
<rect x="532" y="591" width="1" height="49" fill="#c0c0c0" />
<rect x="540" y="593" width="1" height="47" fill="#c0c0c0" />
<rect x="548" y="597" width="1" height="43" fill="#c0c0c0" />
<rect x="556" y="600" width="1" height="40" fill="#c0c0c0" />
<rect x="564" y="605" width="1" height="35" fill="#c0c0c0" />
<rect x="572" y="611" width="1" height="29" fill="#c0c0c0" />
<rect x="580" y="616" width="1" height="24" fill="#c0c0c0" />
<rect x="588" y="620" width="1" height="20" fill="#c0c0c0" />
<rect x="596" y="623" width="1" height="17" fill="#c0c0c0" />
<rect x="604" y="625" width="1" height="15" fill="#c0c0c0" />
<rect x="612" y="627" width="1" height="13" fill="#c0c0c0" />
<rect x="620" y="627" width="1" height="13" fill="#c0c0c0" />
<rect x="628" y="627" width="1" height="13" fill="#c0c0c0" />
<rect x="636" y="626" width="1" height="14" fill="#c0c0c0" />
<rect x="644" y="629" width="1" height="11" fill="#c0c0c0" />
<rect x="652" y="632" width="1" height="8" fill="#c0c0c0" />
<rect x="660" y="634" width="1" height="6" fill="#c0c0c0" />
<rect x="668" y="636" width="1" height="4" fill="#c0c0c0" />
<rect x="676" y="639" width="1" height="1" fill="#c0c0c0" />
<rect x="684" y="639" width="1" height="4" fill="#c0c0c0" />
<rect x="692" y="639" width="1" height="7" fill="#c0c0c0" />
<rect x="700" y="639" width="1" height="12" fill="#c0c0c0" />
<rect x="708" y="639" width="1" height="15" fill="#c0c0c0" />
<rect x="716" y="639" width="1" height="15" fill="#c0c0c0" />
<rect x="724" y="639" width="1" height="13" fill="#c0c0c0" />
<rect x="732" y="639" width="1" height="10" fill="#c0c0c0" />
<rect x="740" y="639" width="1" height="9" fill="#c0c0c0" />
<rect x="748" y="639" width="1" height="7" fill="#c0c0c0" />
<rect x="756" y="637" width="1" height="3" fill="#c0c0c0" />
<rect x="764" y="628" width="1" height="12" fill="#c0c0c0" />
<rect x="772" y="622" width="1" height="18" fill="#c0c0c0" />
<rect x="780" y="613" width="1" height="27" fill="#c0c0c0" />
<rect x="788" y="608" width="1" height="32" fill="#c0c0c0" />
<rect x="796" y="608" width="1" height="32" fill="#c0c0c0" />
<rect x="804" y="610" width="1" height="30" fill="#c0c0c0" />
<rect x="812" y="613" width="1" height="27" fill="#c0c0c0" />
<rect x="820" y="619" width="1" height="21" fill="#c0c0c0" />
<rect x="828" y="625" width="1" height="15" fill="#c0c0c0" />
<rect x="836" y="632" width="1" height="8" fill="#c0c0c0" />
<rect x="844" y="633" width="1" height="7" fill="#c0c0c0" />
<rect x="852" y="635" width="1" height="5" fill="#c0c0c0" />
<rect x="860" y="639" width="1" height="4" fill="#c0c0c0" />
<rect x="868" y="639" width="1" height="17" fill="#c0c0c0" />
<rect x="876" y="639" width="1" height="25" fill="#c0c0c0" />
<rect x="884" y="639" width="1" height="30" fill="#c0c0c0" />
<rect x="892" y="639" width="1" height="32" fill="#c0c0c0" />
<rect x="900" y="639" width="1" height="32" fill="#c0c0c0" />
<rect x="908" y="639" width="1" height="29" fill="#c0c0c0" />
<rect x="916" y="639" width="1" height="24" fill="#c0c0c0" />
<rect x="924" y="639" width="1" height="19" fill="#c0c0c0" />
<rect x="932" y="639" width="1" height="16" fill="#c0c0c0" />
<rect x="940" y="639" width="1" height="9" fill="#c0c0c0" />
<rect x="948" y="639" width="1" height="4" fill="#c0c0c0" />
<rect x="956" y="639" width="1" height="1" fill="#c0c0c0" />
<rect x="964" y="639" width="1" height="1" fill="#c0c0c0" />
<rect x="972" y="639" width="1" height="1" fill="#c0c0c0" />
<rect x="980" y="638" width="1" height="2" fill="#c0c0c0" />
<rect x="988" y="635" width="1" height="5" fill="#c0c0c0" />
<rect x="996" y="632" width="1" height="8" fill="#c0c0c0" />
<rect x="1004" y="630" width="1" height="10" fill="#c0c0c0" />
<rect x="1012" y="628" width="1" height="12" fill="#c0c0c0" />
<rect x="1020" y="626" width="1" height="14" fill="#c0c0c0" />
<rect x="1028" y="624" width="1" height="16" fill="#c0c0c0" />
<rect x="1036" y="621" width="1" height="19" fill="#c0c0c0" />
<rect x="1044" y="618" width="1" height="22" fill="#c0c0c0" />
<rect x="1052" y="618" width="1" height="22" fill="#c0c0c0" />
<rect x="1060" y="618" width="1" height="22" fill="#c0c0c0" />
<rect x="1068" y="619" width="1" height="21" fill="#c0c0c0" />
<rect x="1076" y="620" width="1" height="20" fill="#c0c0c0" />
<rect x="1084" y="620" width="1" height="20" fill="#c0c0c0" />
<rect x="1092" y="623" width="1" height="17" fill="#c0c0c0" />
<rect x="1100" y="622" width="1" height="18" fill="#c0c0c0" />
<rect x="1108" y="625" width="1" height="15" fill="#c0c0c0" />
<rect x="1116" y="625" width="1" height="15" fill="#c0c0c0" />
<rect x="1124" y="623" width="1" height="17" fill="#c0c0c0" />
<rect x="1132" y="622" width="1" height="18" fill="#c0c0c0" />
<rect x="1140" y="619" width="1" height="21" fill="#c0c0c0" />
<rect x="1148" y="618" width="1" height="22" fill="#c0c0c0" />
<rect x="1156" y="617" width="1" height="23" fill="#c0c0c0" />
<rect x="1164" y="615" width="1" height="25" fill="#c0c0c0" />
<rect x="1172" y="613" width="1" height="27" fill="#c0c0c0" />
<rect x="1180" y="613" width="1" height="27" fill="#c0c0c0" />
<rect x="1188" y="613" width="1" height="27" fill="#c0c0c0" />
<rect x="1196" y="615" width="1" height="25" fill="#c0c0c0" />
<rect x="1204" y="618" width="1" height="22" fill="#c0c0c0" />
<rect x="1212" y="620" width="1" height="20" fill="#c0c0c0" />
<rect x="1220" y="624" width="1" height="16" fill="#c0c0c0" />
<rect x="1228" y="627" width="1" height="13" fill="#c0c0c0" />
<rect x="1236" y="628" width="1" height="12" fill="#c0c0c0" />
<rect x="1244" y="630" width="1" height="10" fill="#c0c0c0" />
<rect x="1252" y="633" width="1" height="7" fill="#c0c0c0" />
<rect x="1260" y="633" width="1" height="7" fill="#c0c0c0" />
<rect x="1268" y="632" width="1" height="8" fill="#c0c0c0" />
<rect x="1276" y="632" width="1" height="8" fill="#c0c0c0" />
<rect x="1284" y="633" width="1" height="7" fill="#c0c0c0" />
<rect x="1292" y="634" width="1" height="6" fill="#c0c0c0" />
<rect x="1300" y="636" width="1" height="4" fill="#c0c0c0" />
<rect x="1308" y="638" width="1" height="2" fill="#c0c0c0" />
<rect x="1316" y="638" width="1" height="2" fill="#c0c0c0" />
<rect x="1324" y="637" width="1" height="3" fill="#c0c0c0" />
<rect x="1332" y="635" width="1" height="5" fill="#c0c0c0" />
<rect x="1340" y="634" width="1" height="6" fill="#c0c0c0" />
<rect x="1348" y="633" width="1" height="7" fill="#c0c0c0" />
<rect x="1356" y="632" width="1" height="8" fill="#c0c0c0" />
<rect x="1364" y="633" width="1" height="7" fill="#c0c0c0" />
<rect x="1372" y="634" width="1" height="6" fill="#c0c0c0" />
<rect x="1380" y="635" width="1" height="5" fill="#c0c0c0" />
</g>
<polyline points="0,632.6 12.5,635.6 25,640 45,648 60,652 75,655 95,655.6 110,659.6 120,666.4 132.7,678.9 145,692.6 160,707.7 172.7,718.9 185,723.2 200,723.2 212.8,720.9 225,722.7 237.8,724.4 250,725.2 262.8,726.4 275.3,727.2 287.9,725.2 300,721.9 315.4,717.2 330.4,712.2 345.4,705.7 360.5,697.7 375.5,690.1 390.5,684.6 405.5,678.9 424,670.1 434,663.9 449,653.8 466.6,639.6 484,621.3 496.6,610 511.6,600 526.6,592.5 541.6,589.5 554.2,589.5 564.2,591.3 579.2,597 599.2,606.3 614.2,613.8 626.8,618.8 641.8,622 659.3,626.3 674.3,630 689.3,633.8 704.4,638.8 719.4,643.8 734.4,647.6 746.9,649.3 761.9,647.6 774.4,642.1 787,634.3 799.5,626.3 812,620.8 822,617 834.5,616.3 848,617.5 860.5,625.1 873,633.1 885.5,642.6 898,650.8 913,658.9 925.6,663.1 935.6,664.4 945.6,661.9 960.6,655.1 978.2,647.6 993.2,641.3 1008.2,635.8 1023.2,632.6 1038.2,628.8 1053.3,625.1 1068.3,621.3 1085.8,620.1 1110.8,619.6 1125.8,621.8 1148.4,621.3 1165.9,620.1 1180.9,618.1 1195.9,615.1 1213.5,615.1 1231,617.6 1246,622.1 1261,625.1 1272,628.1 1300,630.8 1340,634.4 1380,637.9" fill="none" stroke="#ff0000" stroke-width="1" stroke-dasharray="3.2,3.2" shape-rendering="crispEdges"/>
<line x1="1263.5" y1="627" x2="1377.53" y2="637.555" stroke="#ff0000" stroke-width="3.4" shape-rendering="crispEdges"/>
<polygon points="1384.5,638.2 1375.14,641.652 1375.93,633.089" fill="#ff0000" shape-rendering="crispEdges"/>
</g>
<text x="-8.2" y="588.6" font-size="9.45" fill="#000" text-anchor="start"  stroke="#000" stroke-width="0.22">MACD(12,26,9) 20.42 22.31</text>
<text x="1651.5" y="587" font-size="9.1" fill="#000" text-anchor="start"  stroke="#000" stroke-width="0.22">246.11</text>
<text x="1651.5" y="643.1" font-size="9.1" fill="#000" text-anchor="start"  stroke="#000" stroke-width="0.22">0.00</text>
<text x="1651.5" y="742.9" font-size="9.1" fill="#000" text-anchor="start"  stroke="#000" stroke-width="0.22">-424.9</text>
<rect x="1648" y="639" width="2" height="1" fill="#000" />
<rect x="1648" y="578" width="1" height="1" fill="#000" />
<rect x="1648" y="745" width="1" height="1" fill="#000" />
<rect x="1648" y="750" width="1" height="1" fill="#000" />
<g clip-path="url(#c3)">
<line x1="0" y1="784.5" x2="1647" y2="784.5" stroke="#c0c0c0" stroke-width="1" stroke-dasharray="3,3" stroke-dashoffset="5" shape-rendering="crispEdges"/>
<line x1="0" y1="835.5" x2="1647" y2="835.5" stroke="#c0c0c0" stroke-width="1" stroke-dasharray="3,3" stroke-dashoffset="5" shape-rendering="crispEdges"/>
<line x1="0" y1="896.5" x2="1647" y2="896.5" stroke="#c0c0c0" stroke-width="1" stroke-dasharray="3,3" stroke-dashoffset="5" shape-rendering="crispEdges"/>
<polyline points="-3.5,838 4.5,858.1 12.5,861.9 20.5,866.1 28.5,850.6 36.5,847.6 44.5,846.4 52.5,838.1 60.5,842.4 68.5,841.4 76.5,842.4 84.5,841.4 92.5,854.4 100.5,883.2 108.5,885.2 116.5,888.7 124.5,894.4 132.5,899.9 140.5,861.9 148.5,851.4 156.5,858.6 164.5,854.9 172.5,851.1 180.5,852.4 188.5,843.1 196.5,848.1 204.5,869.4 212.5,865.1 220.5,866.1 228.5,864.9 236.5,859.4 244.5,850.1 252.5,846.4 260.5,850.1 268.5,859.4 276.5,860.6 284.5,862.4 292.5,852.4 300.5,853.6 308.5,852.4 316.5,847.6 324.5,844.4 332.5,847.4 340.5,848.6 348.5,842.4 356.5,845.6 364.5,854.4 372.5,855.6 380.5,836.1 388.5,840.1 396.5,847.4 404.5,839.4 412.5,829.4 420.5,830.1 428.5,826.8 436.5,816.8 444.5,813.6 452.5,813.6 460.5,807.6 468.5,807.3 476.5,804.3 484.5,803.1 492.5,810.6 500.5,807.6 508.5,806.3 516.5,806.3 524.5,811.1 532.5,814.3 540.5,821.1 548.5,823.1 556.5,823.1 564.5,827.3 572.5,838.6 580.5,835.1 588.5,838.6 596.5,834.9 604.5,833.6 612.5,834.4 620.5,822.3 628.5,825.6 636.5,823.1 644.5,838.1 652.5,840.1 660.5,841.4 668.5,840.6 676.5,853.1 684.5,854.4 692.5,858.1 700.5,866.1 708.5,854.4 716.5,851.9 724.5,839.4 732.5,832.4 740.5,836.1 748.5,825.6 756.5,807.3 764.5,800.6 772.5,802.3 780.5,795.1 788.5,808.1 796.5,820.6 804.5,825.1 812.5,826.3 820.5,842.4 828.5,846.1 836.5,848.1 844.5,836.1 852.5,839.4 860.5,856.1 868.5,871.2 876.5,859.4 884.5,860.6 892.5,850.1 900.5,850.1 908.5,841.9 916.5,833.6 924.5,833.6 932.5,834.9 940.5,824.3 948.5,825.1 956.5,827.3 964.5,831.4 972.5,834.4 980.5,831.1 988.5,823.1 996.5,822.3 1004.5,822.3 1012.5,823.1 1020.5,818.8 1028.5,816.8 1036.5,811.3 1044.5,810.1 1052.5,817.3 1060.5,817.3 1068.5,824.3 1076.5,824.3 1084.5,821.3 1092.5,829.4 1100.5,820.6 1108.5,834.9 1116.5,825.1 1124.5,821.1 1132.5,809.3 1140.5,810.6 1148.5,815.1 1156.5,813.1 1164.5,809.3 1172.5,808.1 1180.5,816.1 1188.5,812.3 1196.5,815.6 1204.5,832.6 1212.5,831.4 1220.5,839.4 1228.5,835.6 1236.5,832.4 1244.5,841.4 1252.5,841.4 1260.5,826.3 1268.5,825.1 1276.5,823.1 1284.5,835.6 1292.5,840.1 1300.5,845.1 1308.5,840.6 1316.5,835.1 1324.5,822.6 1332.5,819.3 1340.5,823.8 1348.5,823.1 1356.5,820.6 1364.5,837.4 1372.5,833.1 1380.5,836.9" fill="none" stroke="#1e90ff" stroke-width="1" shape-rendering="crispEdges"/>
<line x1="1313.5" y1="821" x2="1374.56" y2="829.261" stroke="#ff0000" stroke-width="3.4" shape-rendering="crispEdges"/>
<polygon points="1381.5,830.2 1372,833.255 1373.16,824.732" fill="#ff0000" shape-rendering="crispEdges"/>
</g>
<text x="-7.2" y="760.6" font-size="9.2" fill="#000" text-anchor="start"  stroke="#000" stroke-width="0.22">RSI(14) 49.0061</text>
<text x="1651.5" y="758.9" font-size="9.1" fill="#000" text-anchor="start"  stroke="#000" stroke-width="0.22">100</text>
<text x="1651.5" y="787.9" font-size="9.1" fill="#000" text-anchor="start"  stroke="#000" stroke-width="0.22">80</text>
<text x="1651.5" y="838.9" font-size="9.1" fill="#000" text-anchor="start"  stroke="#000" stroke-width="0.22">50</text>
<text x="1651.5" y="899.9" font-size="9.1" fill="#000" text-anchor="start"  stroke="#000" stroke-width="0.22">15</text>
<text x="1651.5" y="918.9" font-size="9.1" fill="#000" text-anchor="start"  stroke="#000" stroke-width="0.22">0</text>
<text x="-13.4" y="934.6" font-size="9.57" fill="#000" text-anchor="start"  stroke="#000" stroke-width="0.22">24 Nov 2021</text>
<rect x="52" y="923" width="1" height="3" fill="#000" />
<text x="50.6" y="934.6" font-size="9.57" fill="#000" text-anchor="start"  stroke="#000" stroke-width="0.22">25 Nov 00:00</text>
<rect x="116" y="923" width="1" height="3" fill="#000" />
<text x="114.6" y="934.6" font-size="9.57" fill="#000" text-anchor="start"  stroke="#000" stroke-width="0.22">26 Nov 10:55</text>
<rect x="180" y="923" width="1" height="3" fill="#000" />
<text x="178.6" y="934.6" font-size="9.57" fill="#000" text-anchor="start"  stroke="#000" stroke-width="0.22">29 Nov 18:55</text>
<rect x="244" y="923" width="1" height="3" fill="#000" />
<text x="242.6" y="934.6" font-size="9.57" fill="#000" text-anchor="start"  stroke="#000" stroke-width="0.22">1 Dec 00:00</text>
<rect x="308" y="923" width="1" height="3" fill="#000" />
<text x="306.6" y="934.6" font-size="9.57" fill="#000" text-anchor="start"  stroke="#000" stroke-width="0.22">2 Dec 10:55</text>
<rect x="372" y="923" width="1" height="3" fill="#000" />
<text x="370.6" y="934.6" font-size="9.57" fill="#000" text-anchor="start"  stroke="#000" stroke-width="0.22">3 Dec 18:55</text>
<rect x="436" y="923" width="1" height="3" fill="#000" />
<text x="434.6" y="934.6" font-size="9.57" fill="#000" text-anchor="start"  stroke="#000" stroke-width="0.22">7 Dec 00:00</text>
<rect x="500" y="923" width="1" height="3" fill="#000" />
<text x="498.6" y="934.6" font-size="9.57" fill="#000" text-anchor="start"  stroke="#000" stroke-width="0.22">8 Dec 10:55</text>
<rect x="564" y="923" width="1" height="3" fill="#000" />
<text x="562.6" y="934.6" font-size="9.57" fill="#000" text-anchor="start"  stroke="#000" stroke-width="0.22">9 Dec 18:55</text>
<rect x="628" y="923" width="1" height="3" fill="#000" />
<text x="626.6" y="934.6" font-size="9.57" fill="#000" text-anchor="start"  stroke="#000" stroke-width="0.22">13 Dec 00:00</text>
<rect x="692" y="923" width="1" height="3" fill="#000" />
<text x="690.6" y="934.6" font-size="9.57" fill="#000" text-anchor="start"  stroke="#000" stroke-width="0.22">14 Dec 10:55</text>
<rect x="756" y="923" width="1" height="3" fill="#000" />
<text x="754.6" y="934.6" font-size="9.57" fill="#000" text-anchor="start"  stroke="#000" stroke-width="0.22">15 Dec 18:55</text>
<rect x="820" y="923" width="1" height="3" fill="#000" />
<text x="818.6" y="934.6" font-size="9.57" fill="#000" text-anchor="start"  stroke="#000" stroke-width="0.22">17 Dec 00:00</text>
<rect x="884" y="923" width="1" height="3" fill="#000" />
<text x="882.6" y="934.6" font-size="9.57" fill="#000" text-anchor="start"  stroke="#000" stroke-width="0.22">20 Dec 10:55</text>
<rect x="948" y="923" width="1" height="3" fill="#000" />
<text x="946.6" y="934.6" font-size="9.57" fill="#000" text-anchor="start"  stroke="#000" stroke-width="0.22">21 Dec 18:55</text>
<rect x="1012" y="923" width="1" height="3" fill="#000" />
<text x="1010.6" y="934.6" font-size="9.57" fill="#000" text-anchor="start"  stroke="#000" stroke-width="0.22">23 Dec 00:00</text>
<rect x="1076" y="923" width="1" height="3" fill="#000" />
<text x="1074.6" y="934.6" font-size="9.57" fill="#000" text-anchor="start"  stroke="#000" stroke-width="0.22">24 Dec 10:55</text>
<rect x="1140" y="923" width="1" height="3" fill="#000" />
<text x="1138.6" y="934.6" font-size="9.57" fill="#000" text-anchor="start"  stroke="#000" stroke-width="0.22">27 Dec 18:55</text>
<rect x="1204" y="923" width="1" height="3" fill="#000" />
<text x="1202.6" y="934.6" font-size="9.57" fill="#000" text-anchor="start"  stroke="#000" stroke-width="0.22">29 Dec 00:00</text>
<rect x="1268" y="923" width="1" height="3" fill="#000" />
<text x="1266.6" y="934.6" font-size="9.57" fill="#000" text-anchor="start"  stroke="#000" stroke-width="0.22">30 Dec 10:55</text>
<rect x="1332" y="923" width="1" height="3" fill="#000" />
<text x="1330.6" y="934.6" font-size="9.57" fill="#000" text-anchor="start"  stroke="#000" stroke-width="0.22">31 Dec 18:55</text>
<rect x="1693" y="20" width="1" height="914" fill="#e4e4e4" />
<rect x="0" y="0" width="1694" height="16" fill="#f0f0f0" />
<rect x="0" y="16" width="1694" height="1" fill="#dcdcdc" />
<rect x="0" y="17" width="1694" height="1" fill="#9a9a9a" />
<rect x="0" y="18" width="1694" height="1" fill="#8c8c8c" />
<rect x="0" y="19" width="1694" height="1" fill="#f6f6f6" />
<rect x="0" y="12" width="1" height="1.5" fill="#e0a030" />
<rect x="8" y="0" width="1" height="15" fill="#a0a0a0" />
<rect x="18.500" y="-2.500" width="10.5" height="12.500" rx="1" fill="#fff" stroke="#8a8a8a" stroke-width="1"/>
<path d="M20.500 1.500h6M20.500 4h6M20.500 6.500h3" stroke="#999" stroke-width="0.9"/>
<path d="M22 7h4v-4h4v4h4v4h-4v4h-4v-4h-4z" fill="#22cc22" stroke="#0c8c0c" stroke-width="0.8"/>
<path d="M26.8 4v3.800h-3.800" stroke="#8cf08c" stroke-width="1" fill="none"/>
<text x="36.6" y="7.9" font-size="12.2" fill="#000" text-anchor="start" >新订单</text>
<polygon points="85,6.700 91.400,-0.500 101,6.400 92.800,12.750" fill="#e8b030" stroke="#a87408" stroke-width="0.9"/>
<polygon points="85,6.700 92.800,12.750 101,6.400 101,8 92.800,14 85,8.200" fill="#b87c10"/>
<path d="M88 5.500l4.500-4.500l5.500 4" stroke="#f8dc80" stroke-width="1.4" fill="none"/>
<rect x="115.600" y="-2" width="10.600" height="8" fill="#2e8ef0"/><rect x="119" y="0.500" width="5" height="2" fill="#cfe4fa"/>
<path d="M115.500 12.500a3 3 0 0 1 0.300-5.800a4 4 0 0 1 7-1.200a3.200 3.200 0 0 1 3.800 2.300a2.500 2.500 0 0 1-0.500 4.700z" fill="#e6ecf6" stroke="#7f96c4" stroke-width="0.9"/>
<path d="M149 5L149 12.800A7.800 7.800 0 0 0 156.800 5z" fill="#7fc08a"/><path d="M149 5L149 -2.800A7.800 7.800 0 0 1 156.800 5z" fill="#b8d8c0"/>
<path d="M143.500 10.500a7.800 7.800 0 0 1 0-11" stroke="#9ab8e4" stroke-width="1.3" fill="none"/><path d="M146 8a4.300 4.300 0 0 1 0-6" stroke="#6a94d8" stroke-width="1.3" fill="none"/>
<path d="M154.500 -0.500a7.800 7.800 0 0 1 0 11" stroke="#8cc498" stroke-width="1.3" fill="none"/>
<circle cx="149" cy="5" r="1.600" fill="#2a5cd0"/><path d="M149 5v7.800" stroke="#28a038" stroke-width="1.600"/>
<path d="M169 3.500h14l-1 3l-6 6.300l-7-7z" fill="#f4cc30" stroke="#c89a10" stroke-width="0.600"/><ellipse cx="175.800" cy="1" rx="7.800" ry="3.400" fill="#58a8e0"/><ellipse cx="175.800" cy="-0.500" rx="4.500" ry="2.500" fill="#8cc8f0"/>
<circle cx="180.400" cy="8.500" r="4.100" fill="#e0281c"/><rect x="179" y="7.100" width="2.800" height="2.800" fill="#fff"/>
<text x="189.4" y="8.4" font-size="12.1" fill="#000" text-anchor="start" >自动交易</text>
<rect x="244" y="0" width="1" height="17" fill="#a0a0a0" />
<rect x="248" y="1" width="3" height="1" fill="#b4b4b4" />
<rect x="248" y="3" width="3" height="1" fill="#b4b4b4" />
<rect x="248" y="5" width="3" height="1" fill="#b4b4b4" />
<rect x="248" y="7" width="3" height="1" fill="#b4b4b4" />
<rect x="248" y="9" width="3" height="1" fill="#b4b4b4" />
<rect x="248" y="11" width="3" height="1" fill="#b4b4b4" />
<rect x="248" y="13" width="3" height="1" fill="#b4b4b4" />
<path d="M262.5 0v12.8M260.0 10.600h13" stroke="#555" stroke-width="1.3" fill="none"/>
<polygon points="274.5,10.600 272.0,8.800 272.0,12.400" fill="#555"/>
<polygon points="262.5,-1 260.9,1.500 264.1,1.500" fill="#555"/>
<path d="M268.600 0v8.500M268.600 1.500h2.600M266 7.500h2.600" stroke="#1a8a1a" stroke-width="1.300" fill="none"/>
<rect x="283" y="0" width="24" height="15" fill="#f9f9f9" />
<rect x="282" y="0" width="1" height="15" fill="#8c8c8c" />
<path d="M290.5 0v12.8M288.0 10.600h13" stroke="#555" stroke-width="1.3" fill="none"/>
<polygon points="302.5,10.600 300.0,8.800 300.0,12.400" fill="#555"/>
<polygon points="290.5,-1 288.9,1.500 292.1,1.500" fill="#555"/>
<rect x="294" y="-1" width="5" height="7.700" fill="#22c422" stroke="#0c8c0c" stroke-width="0.700"/><path d="M296.500 6.700v2.300" stroke="#0c8c0c" stroke-width="1.200"/>
<path d="M318.5 0v12.8M316.0 10.600h13" stroke="#555" stroke-width="1.3" fill="none"/>
<polygon points="330.5,10.600 328.0,8.800 328.0,12.400" fill="#555"/>
<polygon points="318.5,-1 316.9,1.500 320.1,1.500" fill="#555"/>
<path d="M317 7.400Q320 5 323 2.500Q326 4.500 328.800 6.400" stroke="#1a8a1a" stroke-width="1.300" fill="none"/>
<rect x="339" y="0" width="1" height="15" fill="#a0a0a0" />
<path d="M357.7 7.500l5.700 4.200" stroke="#d8a420" stroke-width="2.800" stroke-linecap="round"/><circle cx="354.2" cy="2.800" r="5.500" fill="#cfe8fc" stroke="#4a98dc" stroke-width="1.400"/>
<path d="M351.2 2.800h6" stroke="#3a80b8" stroke-width="1.500"/>
<path d="M354.2 -0.200v6" stroke="#3a80b8" stroke-width="1.500"/>
<path d="M385.6 7.500l5.700 4.200" stroke="#d8a420" stroke-width="2.800" stroke-linecap="round"/><circle cx="382.1" cy="2.800" r="5.500" fill="#cfe8fc" stroke="#4a98dc" stroke-width="1.400"/>
<path d="M379.1 2.800h6" stroke="#3a80b8" stroke-width="1.500"/>
<rect x="404" y="-1" width="8" height="7" fill="#3aa42a" />
<rect x="412" y="-1" width="8" height="7" fill="#2c68d8" />
<rect x="404" y="6" width="8" height="6.8" fill="#2c68d8" />
<rect x="412" y="6" width="8" height="6.8" fill="#3aa42a" />
<rect x="405.5" y="1" width="5" height="2.8" fill="#f4f8f4" />
<rect x="413.5" y="1" width="5" height="2.8" fill="#f4f6fc" />
<rect x="405.5" y="8.5" width="5" height="3" fill="#f4f6fc" />
<rect x="413.5" y="8.5" width="5" height="3" fill="#f4f8f4" />
<rect x="429" y="0" width="1" height="15" fill="#a0a0a0" />
<rect x="435" y="0" width="24" height="15" fill="#f9f9f9" />
<rect x="434" y="0" width="1" height="15" fill="#8c8c8c" />
<path d="M442.5 0v12.8M440.0 10.600h13" stroke="#555" stroke-width="1.3" fill="none"/>
<polygon points="454.5,10.600 452.0,8.800 452.0,12.400" fill="#555"/>
<polygon points="442.5,-1 440.9,1.500 444.1,1.500" fill="#555"/>
<polygon points="447,1 447,7.800 451.300,4.400" fill="#22b43a" stroke="#109020" stroke-width="0.600"/>
<rect x="462" y="0" width="1" height="15" fill="#a0a0a0" />
<rect x="463" y="0" width="24" height="15" fill="#f9f9f9" />
<path d="M470.6 0v12.8M468.1 10.600h13" stroke="#555" stroke-width="1.3" fill="none"/>
<polygon points="482.6,10.600 480.1,8.800 480.1,12.400" fill="#555"/>
<polygon points="470.6,-1 469.0,1.500 472.20000000000005,1.500" fill="#555"/>
<path d="M476.300 0v8.700" stroke="#1a6a9c" stroke-width="1.300"/><polygon points="477,4.600 480.200,2.200 479.600,4.600 480.200,7" fill="#e05010"/><path d="M479 4.600h3.200" stroke="#e05010" stroke-width="1.200"/>
<rect x="491" y="0" width="1" height="15" fill="#a0a0a0" />
<rect x="501.900" y="-2.500" width="10.500" height="12.600" rx="1" fill="#fff" stroke="#8a8a8a" stroke-width="1"/><path d="M504 2h3M504 5h2" stroke="#777" stroke-width="0.900"/>
<path d="M505.2 7h4v-4h4v4h4v4h-4v4h-4v-4h-4z" fill="#22cc22" stroke="#0c8c0c" stroke-width="0.8"/>
<path d="M510.0 4v3.800h-3.800" stroke="#8cf08c" stroke-width="1" fill="none"/>
<polygon points="522.7,4 528.3,4 525.5,7.200" fill="#111"/>
<circle cx="547" cy="4.600" r="6.800" fill="#f2f6fc" stroke="#2068d0" stroke-width="2.200"/><path d="M546.500 1v4h3" stroke="#444" stroke-width="1.100" fill="none"/>
<polygon points="561.7,4 567.3,4 564.5,7.200" fill="#111"/>
<rect x="579" y="-1.500" width="14.200" height="13" rx="1" fill="#fcfdff" stroke="#3a78c8" stroke-width="1.300"/><path d="M579 6.400h14" stroke="#3a78c8" stroke-width="1"/><path d="M581 4l2.500-1l2.500-1.500l2.500 1l3-1.500" stroke="#b03010" stroke-width="1.100" fill="none"/><path d="M581 9.500l2.500-1l2.500 0.500l2.500-2l3 2.500" stroke="#20a020" stroke-width="1.100" fill="none"/>
<polygon points="600.6,4 606.1999999999999,4 603.4,7.200" fill="#111"/>
<rect x="612" y="0" width="1" height="17" fill="#a0a0a0" />
<rect x="616" y="1" width="3" height="1" fill="#b4b4b4" />
<rect x="616" y="3" width="3" height="1" fill="#b4b4b4" />
<rect x="616" y="5" width="3" height="1" fill="#b4b4b4" />
<rect x="616" y="7" width="3" height="1" fill="#b4b4b4" />
<rect x="616" y="9" width="3" height="1" fill="#b4b4b4" />
<rect x="616" y="11" width="3" height="1" fill="#b4b4b4" />
<rect x="616" y="13" width="3" height="1" fill="#b4b4b4" />
<rect x="623" y="0" width="24" height="15" fill="#f9f9f9" />
<rect x="622" y="0" width="1" height="15" fill="#8c8c8c" />
<polygon points="630.200,-3 630.200,9 633,6.500 635.600,11.800 637.400,10.900 634.800,5.800 638.500,5.500" fill="#505050"/>
<path d="M655 5.300h6M664 5.300h6M662.400 -1v5M662.400 6.600v6.200" stroke="#555" stroke-width="1.200"/>
<rect x="679" y="0" width="1" height="15" fill="#a0a0a0" />
<path d="M696.500 0v11.700" stroke="#555" stroke-width="1.300"/><path d="M719 5.300h12" stroke="#555" stroke-width="1.300"/><path d="M746.600 11.700L759 0" stroke="#555" stroke-width="1.300"/>
<path d="M773 7l9-8.500M774.500 11.500l12.500-11M776 3.500v7M779.500 0.500v7M783 -2v6.500" stroke="#555" stroke-width="1" fill="none"/>
<text x="783.6" y="13.6" font-size="6.3" fill="#333" text-anchor="start" font-weight="bold">E</text>
<path d="M802 1.5h13.5" stroke="#666" stroke-width="1" stroke-dasharray="1,1"/>
<path d="M802 5.5h13.5" stroke="#666" stroke-width="1" stroke-dasharray="1,1"/>
<path d="M802 9.5h9" stroke="#666" stroke-width="1" stroke-dasharray="1,1"/>
<text x="811.4" y="13.7" font-size="6.3" fill="#333" text-anchor="start" font-weight="bold">F</text>
<text x="832.7" y="9.9" font-size="12" fill="#5a5a5a" text-anchor="start" font-weight="bold">A</text>
<rect x="859.500" y="1.500" width="11" height="10" fill="none" stroke="#666" stroke-width="1" stroke-dasharray="1,1"/>
<text x="861.2" y="9.9" font-size="10.5" fill="#555" text-anchor="start" font-weight="bold">T</text>
<path d="M886.500 3l3.300-3.500l3.300 3.500zM893.800 8l3.100 3.500l3.100-3.500z" fill="#444"/><path d="M888.500 6l2.300 2.500l4.200-5.500" stroke="#444" stroke-width="1.300" fill="none"/>
<polygon points="906.7,4 912.3,4 909.5,7.200" fill="#111"/>
<rect x="918" y="0" width="1" height="17" fill="#a0a0a0" />
<rect x="922" y="1" width="3" height="1" fill="#b4b4b4" />
<rect x="922" y="3" width="3" height="1" fill="#b4b4b4" />
<rect x="922" y="5" width="3" height="1" fill="#b4b4b4" />
<rect x="922" y="7" width="3" height="1" fill="#b4b4b4" />
<rect x="922" y="9" width="3" height="1" fill="#b4b4b4" />
<rect x="922" y="11" width="3" height="1" fill="#b4b4b4" />
<rect x="922" y="13" width="3" height="1" fill="#b4b4b4" />
<rect x="1069" y="0" width="24" height="14.5" fill="#f9f9f9" />
<rect x="1068" y="0" width="1" height="15" fill="#8c8c8c" />
<text x="933.3" y="8.8" font-size="9.1" fill="#3c3c3c" text-anchor="start"  stroke="#3c3c3c" stroke-width="0.22">M1</text>
<text x="961.4" y="8.8" font-size="9.1" fill="#3c3c3c" text-anchor="start"  stroke="#3c3c3c" stroke-width="0.22">M5</text>
<text x="987.5" y="8.8" font-size="9.1" fill="#3c3c3c" text-anchor="start"  stroke="#3c3c3c" stroke-width="0.22">M15</text>
<text x="1015.5" y="8.8" font-size="9.1" fill="#3c3c3c" text-anchor="start"  stroke="#3c3c3c" stroke-width="0.22">M30</text>
<text x="1046.5" y="8.8" font-size="9.1" fill="#3c3c3c" text-anchor="start"  stroke="#3c3c3c" stroke-width="0.22">H1</text>
<text x="1073.3" y="8.8" font-size="9.1" fill="#3c3c3c" text-anchor="start"  stroke="#3c3c3c" stroke-width="0.22">H4</text>
<text x="1102.2" y="8.8" font-size="9.1" fill="#3c3c3c" text-anchor="start"  stroke="#3c3c3c" stroke-width="0.22">D1</text>
<text x="1129.8" y="8.8" font-size="9.1" fill="#3c3c3c" text-anchor="start"  stroke="#3c3c3c" stroke-width="0.22">W1</text>
<text x="1156.4" y="8.8" font-size="9.1" fill="#3c3c3c" text-anchor="start"  stroke="#3c3c3c" stroke-width="0.22">MN</text>
<rect x="1179" y="0" width="1" height="17" fill="#a0a0a0" />
<path d="M1642.200 9.500l4.200-3.800" stroke="#2048c0" stroke-width="2.600" stroke-linecap="round"/><circle cx="1649.500" cy="2.700" r="3.900" fill="#fcfdff" stroke="#2a5ad8" stroke-width="1.300"/>
<path d="M1669.500 13.800l0.500-2.800a6 4.600 0 1 1 3 0.800z" fill="#e4e4ea" stroke="#b4b4bc" stroke-width="0.800"/><circle cx="1680.500" cy="2.700" r="8.300" fill="#e0361c"/>
<text x="1679.800" y="6.800" font-size="11.500" fill="#fff" text-anchor="middle" font-family='"Liberation Serif",serif'>1</text>
</svg>
</body></html>
